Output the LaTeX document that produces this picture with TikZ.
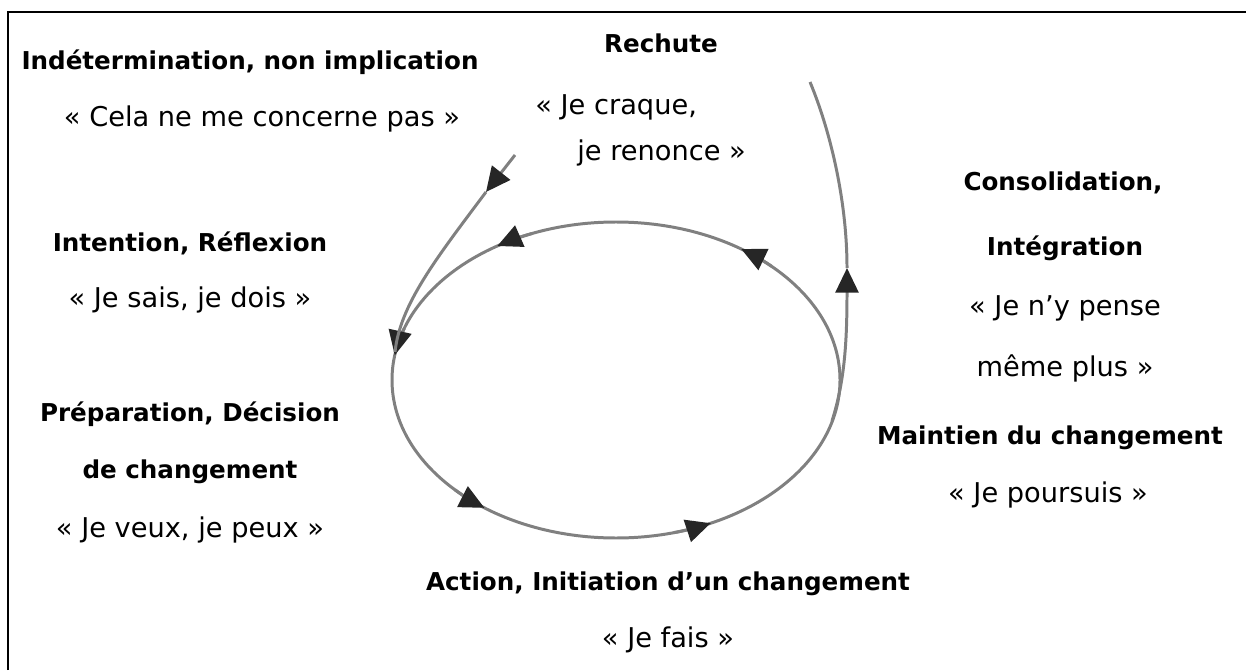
\documentclass[tikz,border=0pt]{standalone}
\usepackage{fontspec}
\setmainfont{DejaVu Sans}
\usetikzlibrary{arrows.meta}
\begin{document}
\begin{tikzpicture}[x=0.02cm,y=0.02cm,
  conn/.style={draw=black!50, line width=1.7pt},
  tipped/.style={-{Triangle[length=14pt,width=13pt,color=black!85]}},
  ttl/.style={font=\bfseries\fontsize{14}{16}\selectfont, inner sep=0pt},
  quo/.style={font=\fontsize{15.5}{18}\selectfont, inner sep=0pt}]
\useasboundingbox (0,0) rectangle (1246,670);
\draw[line width=1.2pt] (8,0) -- (8,658) -- (1246,658);
% cycle
\coordinate (c) at (616,290);
\draw[conn] (c) ellipse [x radius=224, y radius=158];
\foreach \a [evaluate=\a as \b using \a-10] in {56,122,171,234,295}
  \draw[conn,tipped] (c) ++(\b:224 and 158) arc[start angle=\b, end angle=\a, x radius=224, y radius=158];
% relapse exit (right)
\coordinate (r0) at (832,249);
\coordinate (r1) at (847,402);
\coordinate (r2) at (810,588);
\draw[conn,tipped] (r0) .. controls (845,290) and (847,330) .. (r1);
\draw[conn] (r1) .. controls (847,470) and (830,540) .. (r2);
% re-entry (top left)
\coordinate (e0) at (515,515);
\coordinate (e1) at (486,478);
\coordinate (e2) at (395,318);
\draw[conn,tipped] (e0) -- (e1);
\draw[conn] (e1) .. controls (435,410) and (400,365) .. (e2);
% labels
\node[ttl] (t1) at (250,608) {Indétermination, non implication};
\node[quo] (q1) at (262,551) {« Cela ne me concerne pas »};
\node[ttl] (t2) at (661,627) {Rechute};
\node[quo,anchor=west] (q2a) at (535,563) {« Je craque,};
\node[quo,anchor=west] (q2b) at (577,517) {je renonce »};
\node[ttl] (t3) at (190,427) {Intention, Réflexion};
\node[quo] (q3) at (190,370) {« Je sais, je dois »};
\node[ttl] (t4a) at (1063,487) {Consolidation,};
\node[ttl] (t4b) at (1065,422) {Intégration};
\node[quo] (q4a) at (1065,362) {« Je n’y pense};
\node[quo] (q4b) at (1065,302) {même plus »};
\node[ttl] (t5a) at (190,256) {Préparation, Décision};
\node[ttl] (t5b) at (190,198) {de changement};
\node[quo] (q5) at (190,140) {« Je veux, je peux »};
\node[ttl] (t6) at (1050,232) {Maintien du changement};
\node[quo] (q6) at (1048,175) {« Je poursuis »};
\node[ttl] (t7) at (668,86) {Action, Initiation d’un changement};
\node[quo] (q7) at (668,30) {« Je fais »};
\end{tikzpicture}
\end{document}
